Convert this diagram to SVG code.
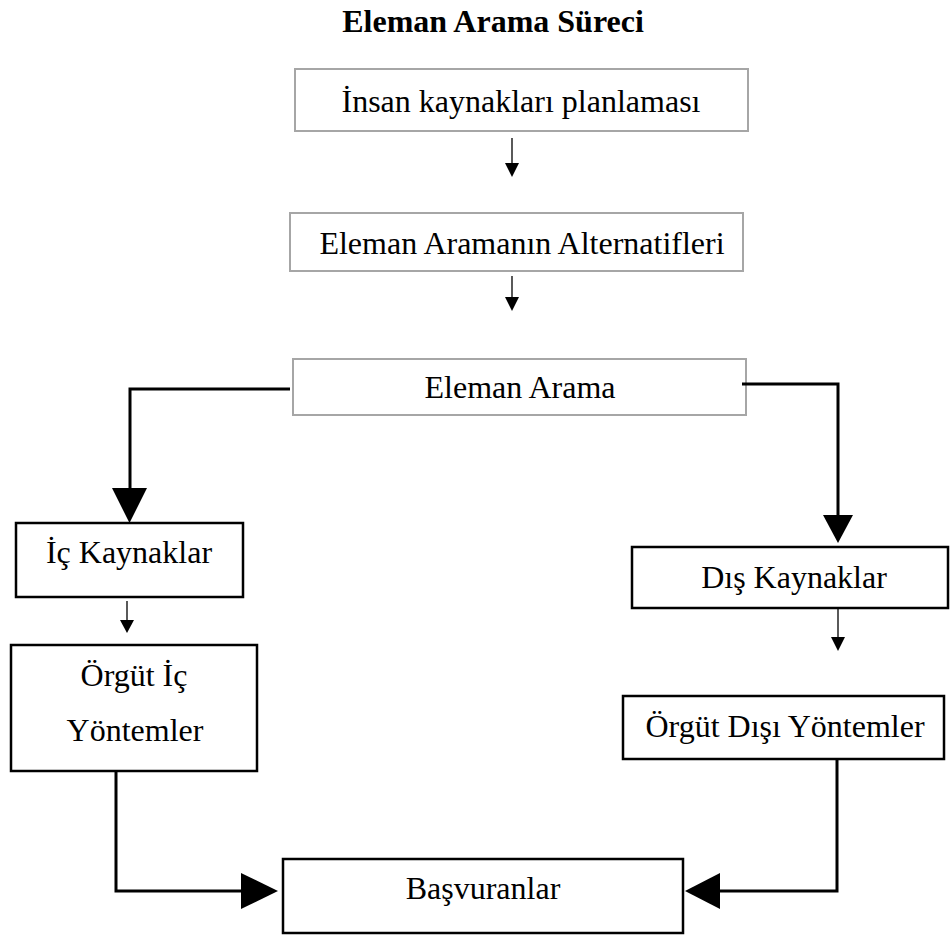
<svg xmlns="http://www.w3.org/2000/svg" width="950" height="936" viewBox="0 0 950 936">
<defs>
<style>
text{font-family:"Liberation Serif","Times New Roman",serif;font-size:32px;fill:#000;text-anchor:middle}
.title{font-weight:bold}
.gbox{fill:#fff;stroke:#a6a6a6;stroke-width:2}
.bbox{fill:#fff;stroke:#000;stroke-width:2.5}
.thin{fill:none;stroke:#000;stroke-width:1.3}
.thick{fill:none;stroke:#000;stroke-width:3}
.head{fill:#000;stroke:none}
</style>
</defs>
<rect width="950" height="936" fill="#fff"/>
<text class="title" x="493" y="32">Eleman Arama Süreci</text>

<g id="n1"><rect class="gbox" x="295" y="69" width="453" height="62"/><text x="521" y="112">İnsan kaynakları planlaması</text></g>
<g id="n2"><rect class="gbox" x="290" y="213" width="453" height="58"/><text x="522" y="254">Eleman Aramanın Alternatifleri</text></g>
<g id="n3"><rect class="gbox" x="293" y="359" width="453" height="56"/><text x="520" y="398">Eleman Arama</text></g>
<g id="n4"><rect class="bbox" x="16" y="523" width="227" height="74"/><text x="129" y="563">İç Kaynaklar</text></g>
<g id="n5"><rect class="bbox" x="11" y="645" width="246" height="126"/><text x="134" y="686">Örgüt İç</text><text x="135" y="741">Yöntemler</text></g>
<g id="n6"><rect class="bbox" x="632" y="547" width="316" height="61"/><text x="794" y="588">Dış Kaynaklar</text></g>
<g id="n7"><rect class="bbox" x="623" y="696" width="321" height="63"/><text x="785" y="737">Örgüt Dışı Yöntemler</text></g>
<g id="n8"><rect class="bbox" x="283" y="859" width="400" height="74"/><text x="483" y="899">Başvuranlar</text></g>

<g id="connectors">
<path class="thin" d="M512 138V164"/><path class="head" d="M505 163H519L512 177Z"/>
<path class="thin" d="M512 276V298"/><path class="head" d="M505 297H519L512 311Z"/>
<path class="thick" d="M290 389H130V490"/><path class="head" d="M112 488H147L129.5 523Z"/>
<path class="thick" d="M742 384H838V517"/><path class="head" d="M823 515H853L838 543Z"/>
<path class="thin" d="M127 601V621"/><path class="head" d="M120 620H134L127 633Z"/>
<path class="thin" d="M838 608V638"/><path class="head" d="M831 637H845L838 651Z"/>
<path class="thick" d="M116 771V891H243"/><path class="head" d="M241 873V909L278 891Z"/>
<path class="thick" d="M837 759V891H718"/><path class="head" d="M720 873V909L685 891Z"/>
</g>
</svg>
